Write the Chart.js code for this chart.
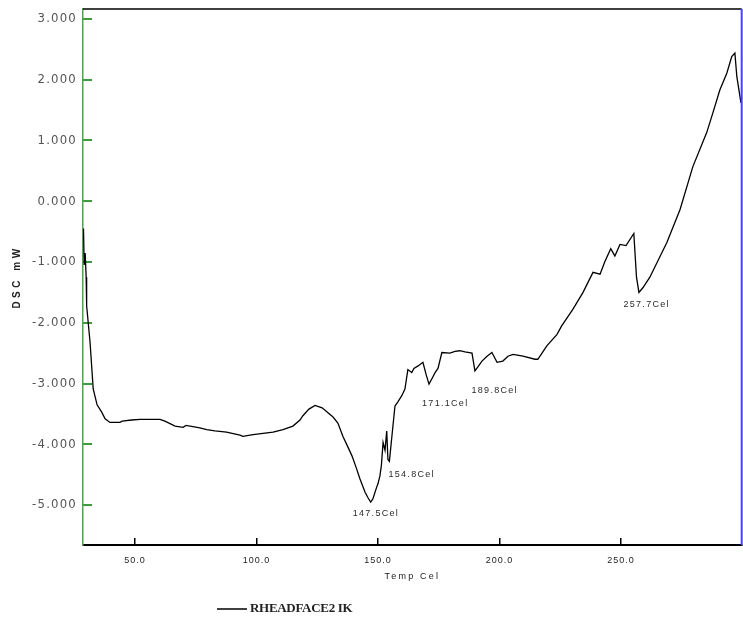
<!DOCTYPE html>
<html>
<head>
<meta charset="utf-8">
<script src="https://cdn.jsdelivr.net/npm/chart.js@4.4.1/dist/chart.umd.min.js"></script>
<style>
  html, body { margin: 0; padding: 0; background: #ffffff; }
  #wrap { width: 743px; height: 623px; position: relative; }
</style>
</head>
<body>
<div id="wrap"><canvas id="c"></canvas></div>
<script>
// ---- data ----
const temps = [28.8, 29.1, 29.5, 29.9, 30.1, 31.5, 32.8, 34.4, 36.3, 37.7, 39.7, 43.8, 44.7, 48.6, 52.1, 60.3, 62.3, 66.5, 69.8, 71.0, 76.7, 79.5, 82.9, 87.7, 93.2, 94.4, 98.6, 106.8, 110.9, 115.0, 117.9, 119.1, 121.6, 124.1, 127.0, 131.5, 133.5, 135.6, 137.7, 139.3, 141.0, 142.6, 144.7, 145.9, 147.0, 147.9, 149.5, 150.0, 150.8, 151.4, 152.1, 152.9, 153.6, 154.1, 154.7, 155.6, 157.0, 158.2, 159.8, 161.1, 162.3, 163.9, 164.8, 166.5, 168.5, 169.8, 171.0, 172.2, 173.5, 174.7, 176.3, 179.6, 181.7, 183.7, 185.8, 188.7, 189.9, 191.2, 192.8, 194.9, 196.9, 199.0, 201.4, 203.5, 205.6, 209.7, 214.6, 215.8, 219.5, 223.7, 225.6, 230.2, 234.4, 238.5, 241.4, 243.4, 245.8, 247.5, 249.6, 252.1, 255.3, 256.4, 257.4, 259.1, 261.9, 268.9, 274.3, 279.6, 285.3, 287.8, 290.7, 293.6, 295.6, 296.9, 297.7, 299.4];
const dscValues = [-0.45, -1.05, -0.85, -1.25, -1.72, -2.32, -3.09, -3.35, -3.47, -3.58, -3.64, -3.64, -3.62, -3.60, -3.59, -3.59, -3.62, -3.70, -3.72, -3.69, -3.73, -3.76, -3.78, -3.80, -3.85, -3.87, -3.84, -3.80, -3.76, -3.70, -3.60, -3.53, -3.42, -3.36, -3.40, -3.55, -3.65, -3.87, -4.05, -4.19, -4.38, -4.57, -4.79, -4.88, -4.95, -4.90, -4.70, -4.65, -4.52, -4.35, -3.97, -4.10, -3.78, -4.25, -4.28, -3.92, -3.37, -3.30, -3.20, -3.09, -2.77, -2.82, -2.75, -2.71, -2.65, -2.85, -3.01, -2.92, -2.82, -2.75, -2.49, -2.50, -2.47, -2.46, -2.48, -2.50, -2.79, -2.72, -2.63, -2.55, -2.49, -2.65, -2.63, -2.55, -2.52, -2.55, -2.60, -2.60, -2.38, -2.19, -2.05, -1.78, -1.50, -1.17, -1.20, -0.99, -0.78, -0.90, -0.71, -0.73, -0.53, -1.25, -1.50, -1.42, -1.25, -0.68, -0.14, 0.57, 1.13, 1.45, 1.83, 2.11, 2.38, 2.44, 2.05, 1.62];
const xTickValues = [50, 100, 150, 200, 250];
const yTickValues = [-5, -4, -3, -2, -1, 0, 1, 2, 3];
const peakTemps = [147.5, 154.8, 171.1, 189.8, 257.7];
const peakDsc = [-4.95, -4.28, -3.01, -2.79, -1.50];
const peakLabels = peakTemps.map(t => t.toFixed(1) + 'Cel');
const seriesName = 'RHEADFACE2 IK';
const xTitle = 'Temp Cel';
const yTitle = 'DSC mW';

// ---- styles (pixel offsets of peak labels) ----
const peakLabelOffsets = [[4, 11], [22, 13], [16, 19], [20, 20], [7, 12]];

function wrapSpacing(scale, labelLS, titleLS) {
  if (scale._lsWrapped) return;
  scale._lsWrapped = true;
  const dl = scale.drawLabels;
  scale.drawLabels = function (a) {
    const c = this.ctx; const p = c.letterSpacing; c.letterSpacing = labelLS;
    dl.call(this, a); c.letterSpacing = p;
  };
  const dt = scale.drawTitle;
  scale.drawTitle = function (a) {
    const c = this.ctx; const p = c.letterSpacing; c.letterSpacing = titleLS;
    dt.call(this, a); c.letterSpacing = p;
  };
}

const decorPlugin = {
  id: 'decor',
  afterDraw(chart) {
    const { ctx, chartArea: a, scales } = chart;
    ctx.save();
    // top border
    ctx.strokeStyle = '#000000'; ctx.lineWidth = 1.5;
    ctx.beginPath(); ctx.moveTo(a.left, a.top); ctx.lineTo(a.right, a.top); ctx.stroke();
    // right border (blue)
    ctx.strokeStyle = '#4646f0'; ctx.lineWidth = 2;
    ctx.beginPath(); ctx.moveTo(a.right, a.top); ctx.lineTo(a.right, a.bottom); ctx.stroke();
    // peak labels
    ctx.fillStyle = '#2a2a2a';
    ctx.font = '9px "Liberation Sans", Arial, sans-serif';
    ctx.letterSpacing = '1.3px';
    ctx.textAlign = 'center'; ctx.textBaseline = 'middle';
    peakTemps.forEach((t, i) => {
      const px = scales.x.getPixelForValue(t) + peakLabelOffsets[i][0];
      const py = scales.y.getPixelForValue(peakDsc[i]) + peakLabelOffsets[i][1];
      ctx.fillText(peakLabels[i], px, py);
    });
    // legend
    ctx.letterSpacing = '-0.3px';
    ctx.strokeStyle = '#000000'; ctx.lineWidth = 1.5;
    ctx.beginPath(); ctx.moveTo(217, 609); ctx.lineTo(247, 609); ctx.stroke();
    ctx.fillStyle = '#222222';
    ctx.font = 'bold 13px "Liberation Serif", "DejaVu Serif", serif';
    ctx.textAlign = 'left';
    ctx.fillText(seriesName, 250, 609);
    ctx.restore();
  }
};

const points = temps.map((t, i) => ({ x: t, y: dscValues[i] }));

new Chart(document.getElementById('c'), {
  type: 'line',
  data: {
    datasets: [{
      label: seriesName,
      data: points,
      borderColor: '#000000',
      borderWidth: 1.3,
      pointRadius: 0,
      tension: 0,
      fill: false
    }]
  },
  options: {
    responsive: true,
    maintainAspectRatio: false,
    animation: false,
    events: [],
    layout: { padding: { left: 0, right: 1.3, top: 9, bottom: 38 } },
    plugins: { legend: { display: false }, tooltip: { enabled: false } },
    scales: {
      x: {
        type: 'linear',
        position: 'bottom',
        min: 28.6,
        max: 299.7,
        afterBuildTicks: s => { s.ticks = xTickValues.map(v => ({ value: v })); },
        afterFit: s => {
          s.height = 40;
          s.paddingLeft = 0; s.paddingRight = 0; s.paddingTop = 0; s.paddingBottom = 0;
          wrapSpacing(s, '1px', '2.2px');
        },
        grid: { drawOnChartArea: false, drawTicks: true, tickLength: -7, color: '#000000', lineWidth: 1.5 },
        border: { color: '#000000', width: 2 },
        ticks: {
          padding: 17,
          color: '#222222',
          font: { size: 9, family: '"Liberation Sans", Arial, sans-serif' },
          callback: v => Number(v).toFixed(1),
          maxRotation: 0
        },
        title: {
          display: true, text: xTitle, color: '#222222',
          font: { size: 9, family: '"Liberation Sans", Arial, sans-serif' },
          padding: { top: 0, bottom: 2.6 }
        }
      },
      y: {
        type: 'linear',
        position: 'left',
        min: -5.657,
        max: 3.164,
        afterBuildTicks: s => { s.ticks = yTickValues.map(v => ({ value: v })); },
        afterFit: s => {
          s.width = 83;
          s.paddingLeft = 0; s.paddingRight = 0; s.paddingTop = 0; s.paddingBottom = 0;
          wrapSpacing(s, '1.2px', '3.5px');
        },
        grid: { drawOnChartArea: false, drawTicks: true, tickLength: -9, color: '#3c9c3c', lineWidth: 2 },
        border: { color: '#4ca64c', width: 1.5 },
        ticks: {
          padding: 15,
          color: '#555555',
          font: { size: 13, family: '"Liberation Sans Narrow", "DejaVu Sans Condensed", "Arial Narrow", sans-serif' },
          callback: v => Number(v).toFixed(3)
        },
        title: {
          display: true, text: yTitle, color: '#222222',
          font: { size: 10, weight: 'bold', family: '"Liberation Sans", Arial, sans-serif' },
          padding: { top: 11, bottom: 0 }
        }
      }
    }
  },
  plugins: [decorPlugin]
});
</script>
</body>
</html>
